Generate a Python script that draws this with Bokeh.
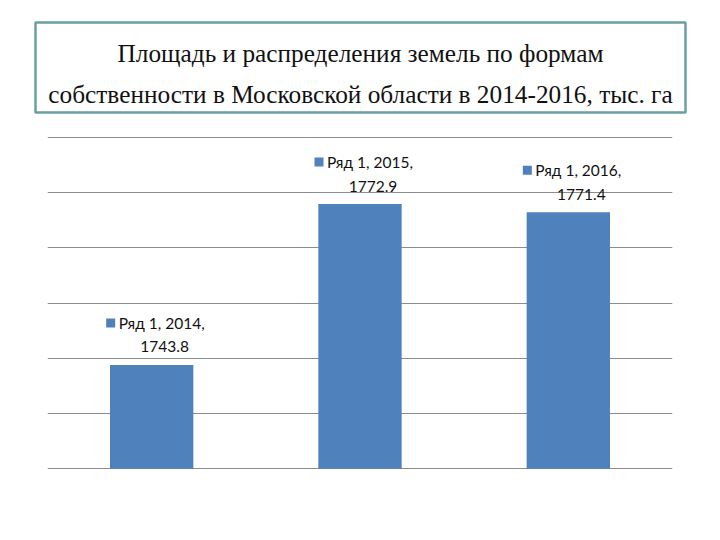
from bokeh.plotting import figure
from bokeh.models import ColumnDataSource, Range1d, LabelSet, FixedTicker
from bokeh.layouts import column
from bokeh.transform import dodge
from bokeh.core.properties import value
from bokeh.embed import file_html
from bokeh.resources import INLINE

# ---- data ----
categories = ["2014", "2015", "2016"]
values = [1743.8, 1772.9, 1771.4]
series_name = "Ряд 1"
y_min, y_max, y_step = 1725, 1785, 10
title_lines = ["Площадь и распределения земель по формам",
               "собственности в Московской области в 2014-2016, тыс. га"]

BAR_COLOR = "#4F81BD"
W = 712

# ---- title panel ----
TH = 120
tp = figure(width=W, height=TH, x_range=Range1d(0, W), y_range=Range1d(0, TH),
            output_backend="svg", toolbar_location=None, min_border=0,
            frame_align=False)
tp.axis.visible = False
tp.grid.visible = False
tp.outline_line_color = None
tp.quad(left=35, right=685, bottom=TH - 112, top=TH - 22, fill_color="white",
        line_color="#6A9FA3", line_width=2.5)
tp.text(x=[360, 360], y=[TH - 52, TH - 93], text=title_lines,
        text_font=value("Liberation Serif"), text_font_size="25.3px",
        text_align="center", text_baseline="middle", text_color="#111111")

# ---- chart ----
pad = 0.12
fw, fh = 625, 333
p = figure(width=W, height=412, x_range=categories,
           y_range=Range1d(y_min - pad, y_max + pad),
           output_backend="svg", toolbar_location=None,
           min_border_left=47, min_border_right=W - 47 - fw,
           min_border_top=16, min_border_bottom=412 - 16 - fh,
           frame_align=False)
p.xaxis.visible = False
p.yaxis.visible = False
p.xgrid.grid_line_color = None
p.ygrid.ticker = FixedTicker(ticks=list(range(y_min, y_max + 1, y_step)))
p.ygrid.grid_line_color = "#8C8C8C"
p.ygrid.grid_line_width = 1
p.outline_line_color = None
p.x_range.range_padding = 0

line1 = [f"{series_name}, {c}," for c in categories]
line2 = [f"{v:.1f}" for v in values]
src = ColumnDataSource(dict(cat=categories, val=values, l1=line1, l2=line2))

p.vbar(x="cat", top="val", bottom=y_min, width=0.4, source=src,
       fill_color=BAR_COLOR, line_color=None)

px_x = fw / len(categories)
px_y = fh / (y_max - y_min + 2 * pad)
p.scatter(x=dodge("cat", -41 / px_x, range=p.x_range),
          y=dodge("val", 42 / px_y, range=p.y_range),
          marker="square", size=9, fill_color=BAR_COLOR, line_color=None, source=src)

p.add_layout(LabelSet(x="cat", y="val", text="l1", source=src, x_offset=-33, y_offset=42,
                      text_align="left", text_baseline="middle",
                      text_font=value("Lato"), text_font_size="15.5px", text_color="#111111"))
p.add_layout(LabelSet(x="cat", y="val", text="l2", source=src, x_offset=13, y_offset=18,
                      text_align="center", text_baseline="middle",
                      text_font=value("Lato"), text_font_size="15.5px", text_color="#111111"))

layout = column(tp, p, spacing=0)
open("out.html", "w").write(file_html(layout, INLINE))
